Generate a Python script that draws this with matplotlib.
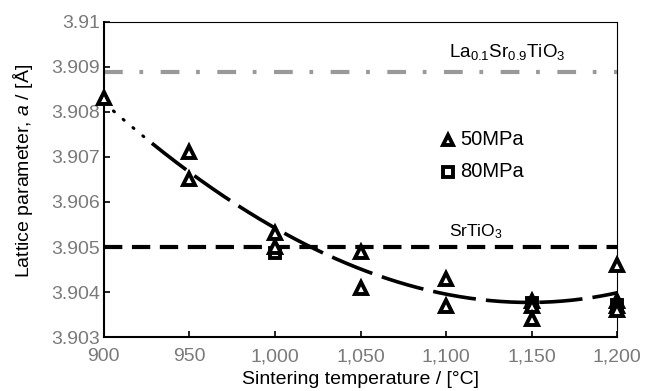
import numpy as np
import matplotlib
matplotlib.use("Agg")
import matplotlib.pyplot as plt
from matplotlib.ticker import FuncFormatter

plt.rcParams['font.family'] = ['Liberation Sans', 'DejaVu Sans']
plt.rcParams['mathtext.fontset'] = 'custom'
plt.rcParams['mathtext.rm'] = 'Liberation Sans'
plt.rcParams['mathtext.it'] = 'Liberation Sans:italic'

# 50MPa 的测量点
temp_50 = [900, 950, 950, 1000, 1000, 1050, 1050, 1100, 1100, 1150, 1150, 1150, 1200, 1200, 1200, 1200]
a_50 = [3.9083, 3.9071, 3.9065, 3.9053, 3.9050, 3.9049, 3.9041, 3.9043, 3.9037, 3.9038, 3.9037, 3.9034,
        3.9046, 3.9038, 3.9037, 3.9036]

# 80MPa 的测量点
temp_80 = [1000, 1150, 1200]
a_80 = [3.90487, 3.90375, 3.90372]

# 趋势线
trend_t = [900, 925, 950, 975, 1000, 1025, 1050, 1075, 1100, 1125, 1150, 1175, 1200]
trend_a = [3.9082, 3.9074, 3.9067, 3.9060, 3.9054, 3.9049, 3.9045, 3.9042, 3.9040, 3.9038, 3.90376, 3.9038, 3.9040]

lsto_a = 3.90889
sto_a = 3.905

fig = plt.figure(figsize=(6.45, 3.91), dpi=100)
ax = fig.add_axes([0.161, 0.138, 0.796, 0.806])

# 平滑趋势线
coef = np.polyfit(trend_t, trend_a, 3)
tt = np.linspace(900, 1200, 300)
aa = np.polyval(coef, tt)
split = tt <= 928
ax.plot(tt[split], aa[split], color='black', lw=2.2, linestyle=(0, (0.4, 3.8)), dash_capstyle='round')
ax.plot(tt[~split], aa[~split], color='black', lw=2.6, linestyle=(0, (12, 2.8)))

# 参考线
ax.axhline(lsto_a, color='#999999', lw=3, linestyle=(0, (4.5, 4.0, 0.9, 4.2)), zorder=1)
ax.axhline(sto_a, color='black', lw=3, linestyle=(0, (4.4, 2.3)), zorder=1)

ax.plot(temp_50, a_50, linestyle='none', marker='^', markersize=8.5, markerfacecolor='white',
        markeredgecolor='black', markeredgewidth=2.8, zorder=5, clip_on=False)
ax.plot(temp_80, a_80, linestyle='none', marker='s', markersize=7, markerfacecolor='white',
        markeredgecolor='black', markeredgewidth=2.8, zorder=4, clip_on=False)

ax.text(1136, 3.90933, r'La$_{0.1}$Sr$_{0.9}$TiO$_3$', fontsize=13.5, ha='center', va='center')
ax.text(1117.5, 3.90533, r'SrTiO$_3$', fontsize=12.5, ha='center', va='center')

# 图例
ax.plot([1101], [3.90738], marker='^', markersize=7.5, markerfacecolor='white', markeredgecolor='black',
        markeredgewidth=2.8, linestyle='none')
ax.text(1108, 3.90738, '50MPa', fontsize=14.5, va='center')
ax.plot([1101], [3.90667], marker='s', markersize=7, markerfacecolor='white', markeredgecolor='black',
        markeredgewidth=2.8, linestyle='none')
ax.text(1108, 3.90667, '80MPa', fontsize=14.5, va='center')

ax.set_xlim(900, 1200)
ax.set_ylim(3.903, 3.910)
ax.set_xticks([900, 950, 1000, 1050, 1100, 1150, 1200])
ax.set_yticks([3.903, 3.904, 3.905, 3.906, 3.907, 3.908, 3.909, 3.910])
ax.xaxis.set_major_formatter(FuncFormatter(lambda v, p: f"{int(v):,}"))
ax.yaxis.set_major_formatter(FuncFormatter(lambda v, p: f"{v:.3f}".rstrip('0')))
ax.tick_params(direction='in', labelsize=14, labelcolor='#7a7a7a', length=4, width=1.2)
ax.tick_params(axis='x', pad=8)
ax.tick_params(axis='y', pad=3)
ax.spines['left'].set_linewidth(1.5)
ax.spines['bottom'].set_linewidth(1.5)
ax.spines['top'].set_linewidth(0.8)
ax.spines['right'].set_linewidth(0.8)

ax.set_xlabel('Sintering temperature / [°C]', fontsize=14)
ax.set_ylabel('Lattice parameter, $a$ / [Å]', fontsize=14)
ax.xaxis.set_label_coords(0.5, -0.108)
ax.yaxis.set_label_coords(-0.134, 0.527)

fig.savefig('out.png', dpi=100)
